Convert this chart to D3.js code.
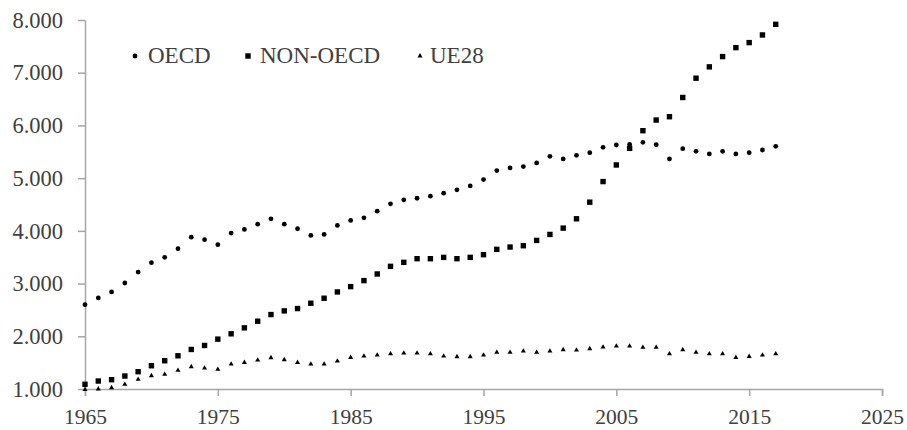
<!DOCTYPE html>
<html>
<head>
<meta charset="utf-8">
<script src="https://cdn.jsdelivr.net/npm/d3@7"></script>
<style>
  body { margin: 0; background: #fff; }
</style>
</head>
<body>
<svg id="chart" width="907" height="430"></svg>
<script>
var years = d3.range(1965, 2018);
var xTicks = [1965, 1975, 1985, 1995, 2005, 2015, 2025];
var yTicks = [1000, 2000, 3000, 4000, 5000, 6000, 7000, 8000];

var oecd = [2600, 2727, 2841, 3011, 3219, 3397, 3497, 3661, 3881, 3832,
            3737, 3957, 4027, 4127, 4229, 4127, 4040, 3913, 3932, 4103,
            4197, 4248, 4373, 4513, 4589, 4619, 4657, 4714, 4778, 4853,
            4973, 5143, 5194, 5219, 5289, 5414, 5364, 5433, 5484, 5584,
            5629, 5640, 5679, 5635, 5364, 5559, 5508, 5459, 5508, 5459,
            5484, 5534, 5603];
var nonOecd = [1090, 1151, 1177, 1246, 1328, 1441, 1536, 1630, 1750, 1826,
               1946, 2047, 2160, 2286, 2412, 2482, 2526, 2627, 2722, 2841,
               2942, 3056, 3182, 3327, 3403, 3472, 3472, 3497, 3472, 3497,
               3548, 3649, 3693, 3718, 3819, 3932, 4052, 4229, 4544, 4935,
               5250, 5565, 5900, 6102, 6165, 6530, 6896, 7111, 7306, 7476,
               7571, 7716, 7918];
var ue28 = [990, 1000, 1025, 1089, 1183, 1252, 1278, 1353, 1422, 1397,
            1372, 1473, 1504, 1549, 1593, 1555, 1504, 1473, 1473, 1530,
            1599, 1624, 1643, 1668, 1681, 1681, 1668, 1624, 1612, 1612,
            1643, 1694, 1694, 1719, 1694, 1719, 1744, 1738, 1763, 1795,
            1813, 1813, 1789, 1789, 1668, 1744, 1694, 1668, 1668, 1599,
            1618, 1643, 1668];

var FONT = 'Liberation Serif';
var svg = d3.select('#chart');
var x = d3.scaleLinear().domain([1965, 2025]).range([85, 882]);
var y = d3.scaleLinear().domain([1000, 8000]).range([389, 20]);
var fmt = function(d){ return d3.format(',')(d).replace(',', '.'); };

var xAxis = svg.append('g')
  .attr('transform', 'translate(0,389)')
  .call(d3.axisBottom(x).tickValues(xTicks).tickFormat(d3.format('d'))
        .tickSize(7).tickPadding(13).tickSizeOuter(7));
var yAxis = svg.append('g')
  .attr('transform', 'translate(85,0)')
  .call(d3.axisLeft(y).tickValues(yTicks).tickFormat(fmt)
        .tickSize(7).tickPadding(15).tickSizeOuter(0));

[xAxis, yAxis].forEach(function(g){
  g.attr('font-family', null).attr('font-size', null);
  g.selectAll('path, line').attr('stroke', '#a6a6a6').attr('stroke-width', 1.5);
  g.selectAll('text').attr('font-family', FONT).attr('fill', '#404040');
});
xAxis.selectAll('text').attr('font-size', 21.5);
yAxis.selectAll('text').attr('font-size', 22.5);

var series = [
  {name: 'OECD', values: oecd, shape: 'circle', lx: 135, tx: 148},
  {name: 'NON-OECD', values: nonOecd, shape: 'square', lx: 248, tx: 260},
  {name: 'UE28', values: ue28, shape: 'triangle', lx: 420, tx: 430}
];

function drawMark(g, shape, cx, cy) {
  if (shape === 'circle') {
    g.append('circle').attr('cx', cx).attr('cy', cy).attr('r', 2.4).attr('fill', '#000');
  } else if (shape === 'square') {
    g.append('rect').attr('x', cx - 2.7).attr('y', cy - 2.7)
      .attr('width', 5.4).attr('height', 5.4).attr('fill', '#000');
  } else {
    g.append('path').attr('d', d3.symbol(d3.symbolTriangle, 11)())
      .attr('transform', 'translate(' + cx + ',' + cy + ')').attr('fill', '#000');
  }
}

series.forEach(function(s){
  var g = svg.append('g');
  s.values.forEach(function(v, i){
    drawMark(g, s.shape, x(years[i]), y(v));
  });
  var lg = svg.append('g');
  drawMark(lg, s.shape, s.lx, 56);
  lg.append('text').attr('x', s.tx).attr('y', 63)
    .attr('font-family', FONT).attr('font-size', 23).attr('fill', '#404040')
    .text(s.name);
});
</script>
</body>
</html>
